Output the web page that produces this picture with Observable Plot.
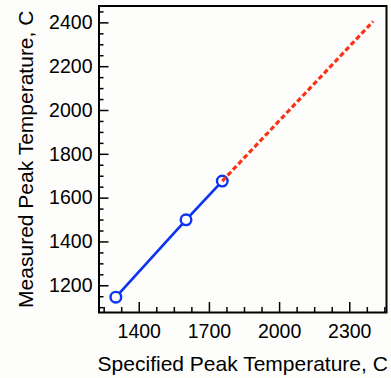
<!DOCTYPE html>
<html>
<head>
<meta charset="utf-8">
<script src="https://cdn.jsdelivr.net/npm/d3@7"></script>
<script src="https://cdn.jsdelivr.net/npm/@observablehq/plot@0.6"></script>
<style>
  html, body { margin: 0; padding: 0; background: #fdfdfb; }
  #chart svg { display: block; }
</style>
</head>
<body>
<div id="chart"></div>
<script>
// Measured data points
const specified = [1300, 1600, 1755];
const measured = [1148, 1501, 1678];
// Extrapolated (dashed) segment
const extSpecified = [1755, 2400];
const extMeasured = [1678, 2407];
// Ticks
const xMajorTicks = [1400, 1700, 2000, 2300];
const xMinorTicks = [1250, 1325, 1475, 1550, 1625, 1775, 1850, 1925, 2075, 2150, 2225, 2375, 2450];
const yMajorTicks = [1200, 1400, 1600, 1800, 2000, 2200, 2400];
const yMinorTicks = [1100, 1150, 1250, 1300, 1350, 1450, 1500, 1550, 1650, 1700, 1750, 1850, 1900, 1950, 2050, 2100, 2150, 2250, 2300, 2350, 2450];
const xLabel = "Specified Peak Temperature, C";
const yLabel = "Measured Peak Temperature, C";

const points = specified.map((x, i) => ({x, y: measured[i]}));
const ext = extSpecified.map((x, i) => ({x, y: extMeasured[i]}));

const font = "'Liberation Sans', Arial, Helvetica, sans-serif";
const blue = "#0c34f2";
const red = "#fa3218";

const chart = Plot.plot({
  width: 391,
  height: 378,
  marginLeft: 98.5,
  marginRight: 5,
  marginTop: 5.5,
  marginBottom: 66,
  style: {fontFamily: font, background: "#fdfdfb", color: "#000"},
  x: {domain: [1228, 2457]},
  y: {domain: [1078, 2477]},
  marks: [
    // inward ticks
    Plot.axisX({ticks: xMajorTicks, tickSize: -10, text: null, label: null, strokeWidth: 1.5}),
    Plot.axisX({ticks: xMinorTicks, tickSize: -5, text: null, label: null, strokeWidth: 1.5}),
    Plot.axisY({ticks: yMajorTicks, tickSize: -10, text: null, label: null, strokeWidth: 1.5}),
    Plot.axisY({ticks: yMinorTicks, tickSize: -5, text: null, label: null, strokeWidth: 1.5}),
    // tick labels
    Plot.axisX({ticks: xMajorTicks, tickSize: 0, tickPadding: 12, label: null, fontSize: 19.5, tickFormat: d => String(d)}),
    Plot.axisY({ticks: yMajorTicks, tickSize: 0, tickPadding: 6.5, label: null, fontSize: 19.5, tickFormat: d => String(d)}),
    // axis titles
    Plot.axisX({ticks: [], tickSize: 0, label: xLabel, labelAnchor: "center", labelArrow: "none", labelOffset: 58, fontSize: 21}),
    Plot.axisY({ticks: [], tickSize: 0, label: yLabel, labelAnchor: "center", labelArrow: "none", labelOffset: 81, fontSize: 21}),
    Plot.frame({stroke: "#000", strokeWidth: 2}),
    Plot.line(points, {x: "x", y: "y", stroke: blue, strokeWidth: 2.7}),
    Plot.dot(points, {x: "x", y: "y", r: 5.3, stroke: blue, strokeWidth: 2.4, fill: "#fff"}),
    Plot.line(ext, {x: "x", y: "y", stroke: red, strokeWidth: 3.2, strokeLinecap: "butt", strokeDasharray: "5,2.8"})
  ]
});
document.getElementById("chart").appendChild(chart);
</script>
</body>
</html>
